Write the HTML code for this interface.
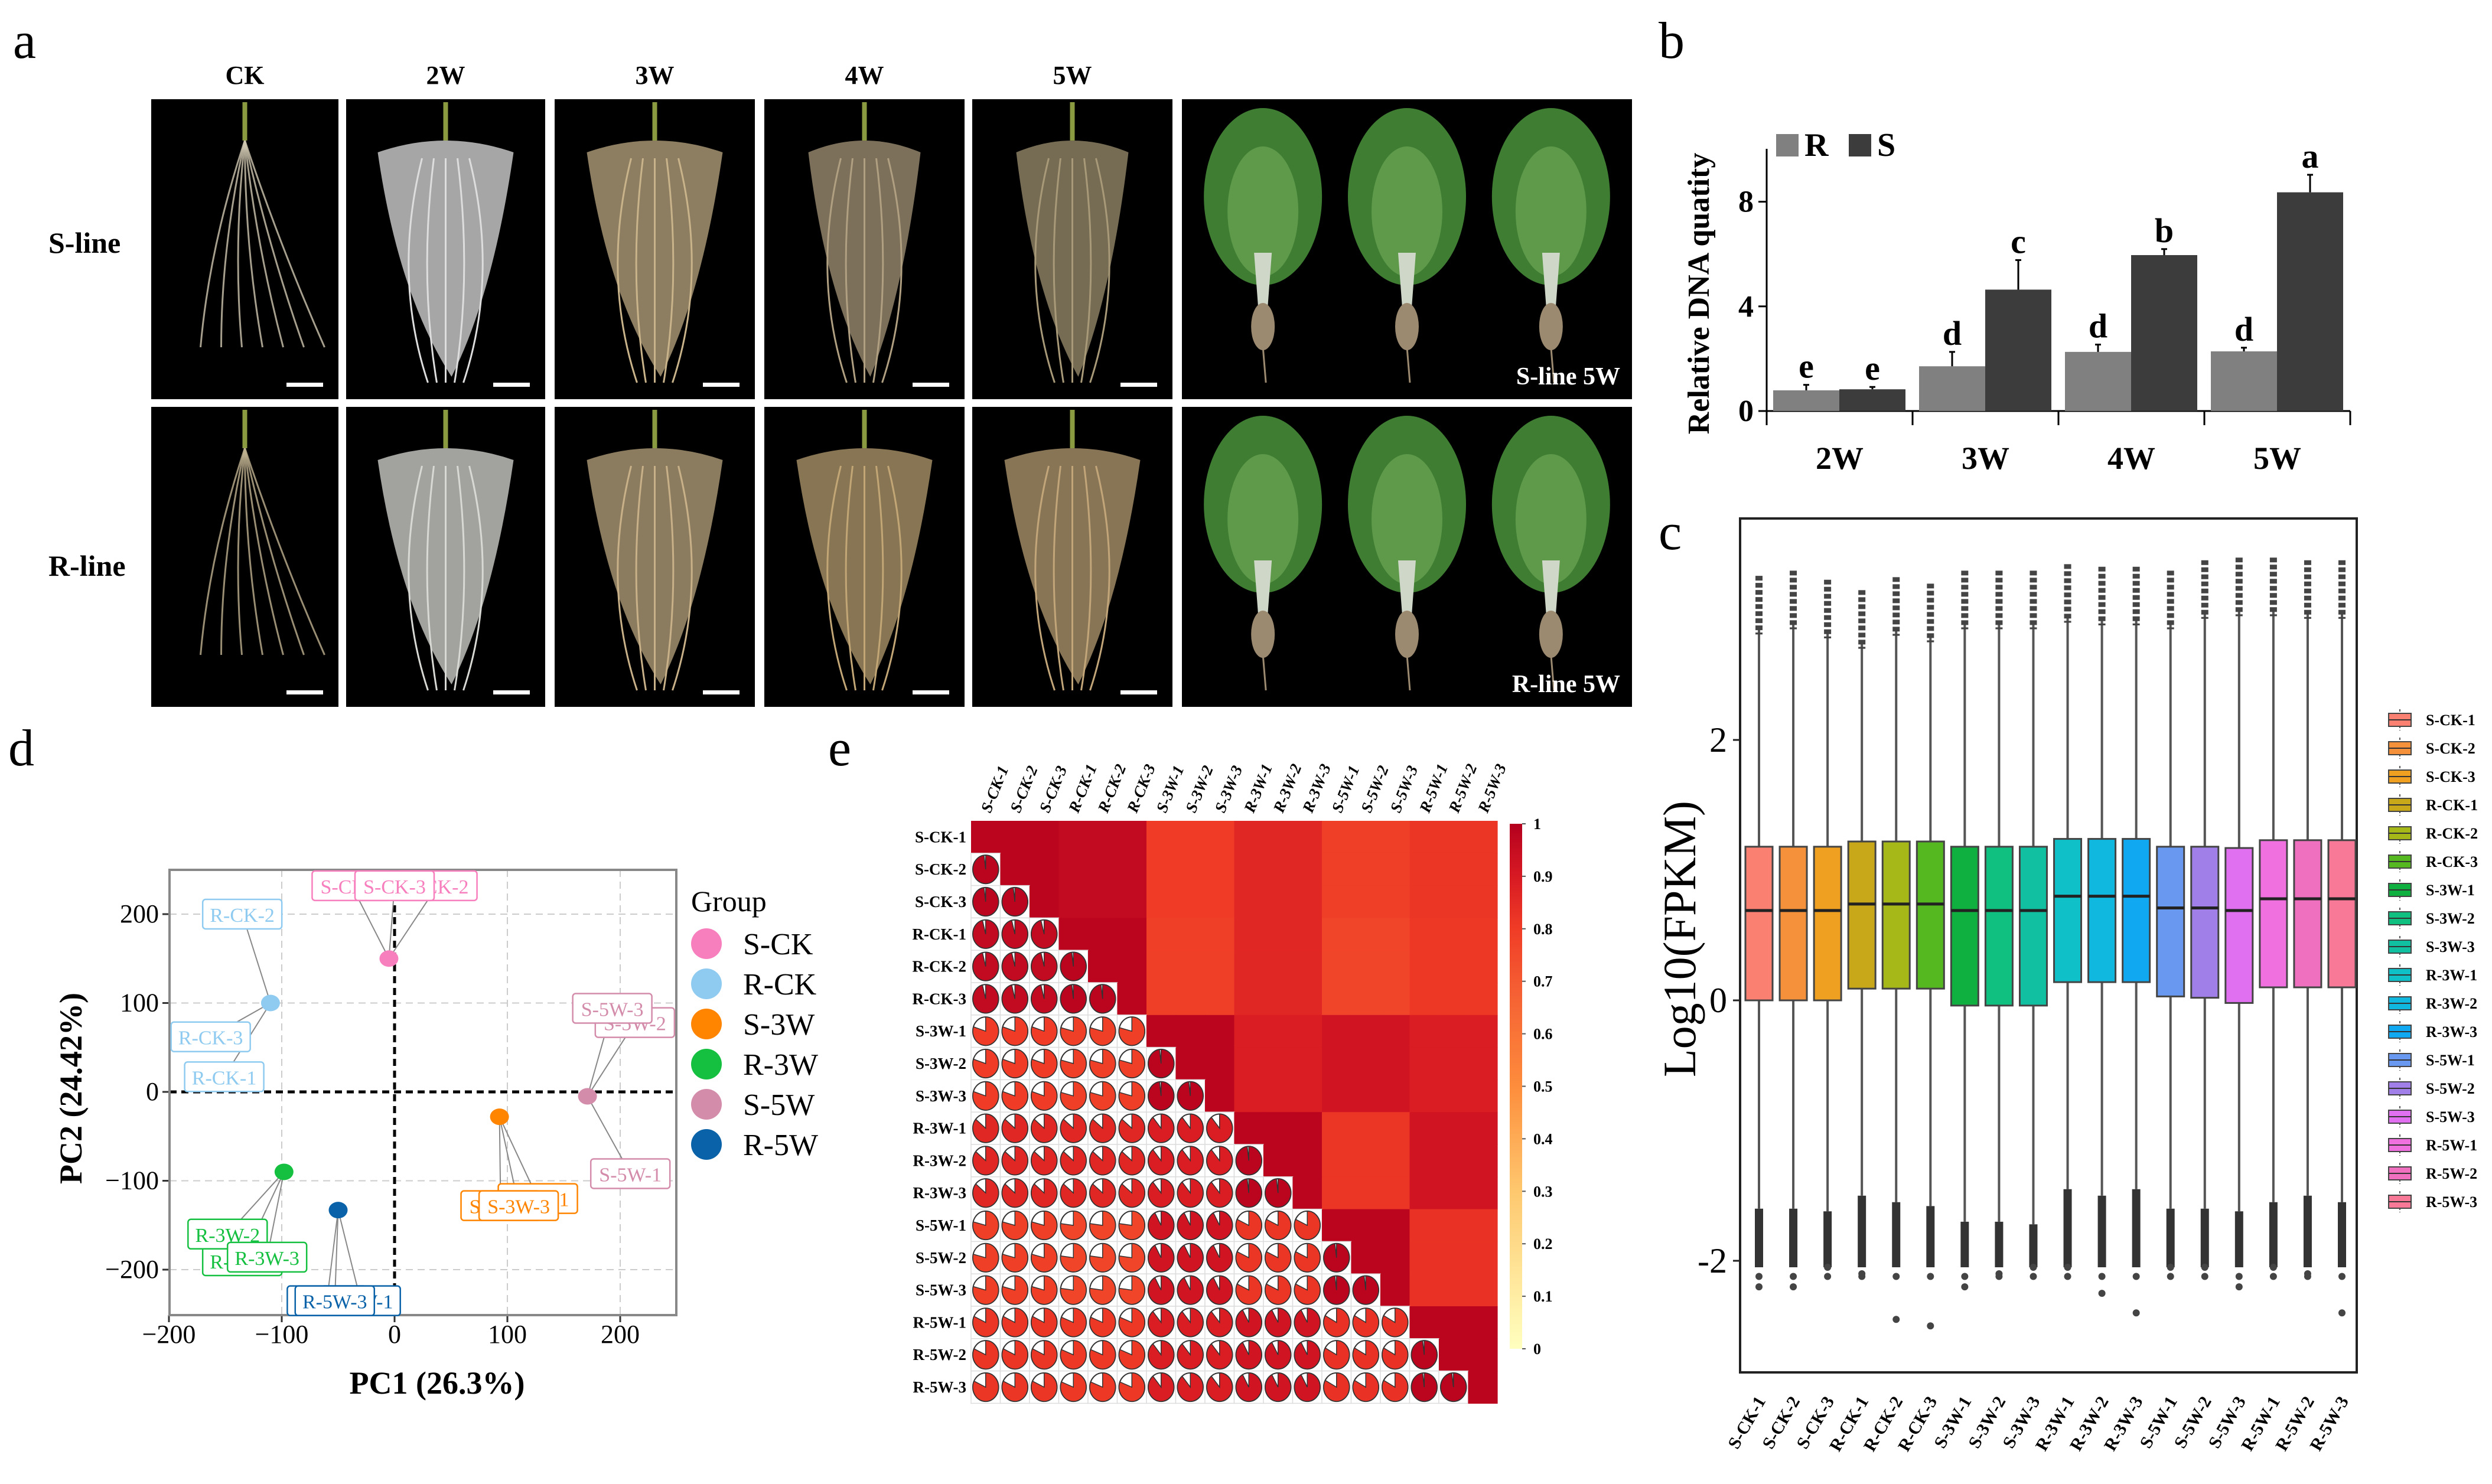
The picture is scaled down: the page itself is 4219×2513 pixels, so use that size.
<!DOCTYPE html>
<html><head><meta charset="utf-8">
<style>
html,body{margin:0;padding:0;background:#fff;}
svg{display:block;font-family:"Liberation Serif",serif;}
</style></head>
<body>
<svg id="fig" width="4219" height="2513" viewBox="0 0 4219 2513" xmlns="http://www.w3.org/2000/svg" font-family="'Liberation Serif', serif">
<rect x="0" y="0" width="4219" height="2513" fill="#fff"/>
<g id="panelA"></g>
<g id="panelB"></g>
<g id="panelC"></g>
<g id="panelD"></g>
<g id="panelE"></g>
</svg>
<script>
// ---------- data ----------
const barGroups = ["2W","3W","4W","5W"];
const barR = [0.79, 1.71, 2.26, 2.28];
const barS = [0.83, 4.64, 5.96, 8.36];
const errR = [0.21, 0.55, 0.28, 0.14];
const errS = [0.09, 1.13, 0.23, 0.67];
const letR = ["e","d","d","d"];
const letS = ["e","c","b","a"];
const barTicks = [0,4,8];

const samples = ["S-CK-1","S-CK-2","S-CK-3","R-CK-1","R-CK-2","R-CK-3","S-3W-1","S-3W-2","S-3W-3","R-3W-1","R-3W-2","R-3W-3","S-5W-1","S-5W-2","S-5W-3","R-5W-1","R-5W-2","R-5W-3"];
const boxQ1 = [0.0,0.0,0.0,0.09,0.09,0.09,-0.04,-0.04,-0.04,0.14,0.14,0.14,0.03,0.02,-0.02,0.1,0.1,0.1];
const boxMed = [0.69,0.69,0.69,0.74,0.74,0.74,0.69,0.69,0.69,0.80,0.80,0.80,0.71,0.71,0.69,0.78,0.78,0.78];
const boxQ3 = [1.18,1.18,1.18,1.22,1.22,1.22,1.18,1.18,1.18,1.24,1.24,1.24,1.18,1.18,1.17,1.23,1.23,1.23];
const outHi = [3.26,3.3,3.23,3.15,3.25,3.2,3.3,3.3,3.3,3.35,3.33,3.33,3.3,3.38,3.4,3.4,3.38,3.38];
const whiskLo = [-1.6,-1.6,-1.62,-1.5,-1.55,-1.58,-1.7,-1.7,-1.72,-1.45,-1.5,-1.45,-1.6,-1.6,-1.62,-1.55,-1.5,-1.55];
const outLo = [-2.2,-2.2,-2.05,-2.1,-2.45,-2.5,-2.2,-2.1,-2.05,-2.05,-2.25,-2.4,-2.05,-2.05,-2.2,-2.05,-2.1,-2.4];
const boxColors = ["#fa8072","#f4913a","#f0a020","#c8a818","#a6b818","#55b820","#10b040","#10c080","#10c0a0","#10c0c8","#10b8e0","#10a8f0","#6898f0","#a080e8","#e070f0","#f070e0","#f070c0","#f87898"];
const boxTicks = [-2,0,2];

const pcaGroups = ["S-CK","R-CK","S-3W","R-3W","S-5W","R-5W"];
const pcaX = [-5,-110,93,-98,171,-50];
const pcaY = [150,100,-28,-90,-5,-133];
const pcaColors = ["#f77fbe","#8fcbf0","#ff8400","#15c040","#d48cab","#0a62a8"];
const pcaTicksX = [-200,-100,0,100,200];
const pcaTicksY = [-200,-100,0,100,200];

const corrGroups = ["S-CK","R-CK","S-3W","R-3W","S-5W","R-5W"];
const corrRow0 = [0.98,0.96,0.80,0.86,0.79,0.82];
const corrRow1 = [0.96,0.98,0.79,0.86,0.77,0.81];
const corrRow2 = [0.80,0.79,0.98,0.89,0.92,0.89];
const corrRow3 = [0.86,0.86,0.89,0.98,0.82,0.92];
const corrRow4 = [0.79,0.77,0.92,0.82,0.98,0.83];
const corrRow5 = [0.82,0.81,0.89,0.92,0.83,0.98];
const cbTicks = [0,0.1,0.2,0.3,0.4,0.5,0.6,0.7,0.8,0.9,1];

// ---------- helpers ----------
const NS="http://www.w3.org/2000/svg";
function mk(parent,tag,attrs,text){const e=document.createElementNS(NS,tag);for(const k in attrs)e.setAttribute(k,attrs[k]);if(text!==undefined)e.textContent=text;parent.appendChild(e);return e;}

// ---------- panel A ----------
const A=document.getElementById('panelA');
let t=mk(A,'text',{x:22,y:98,'font-size':88},'a');


const colX=[256,586,939,1294,1646,2001];
const colW=[317,337,339,339,339,762];
const rowY=[168,689];
const rowH=508;
const heads=["CK","2W","3W","4W","5W"];
heads.forEach((h,i)=>{const e=mk(A,'text',{x:colX[i]+colW[i]/2,y:142,'font-size':44,'font-weight':'bold','text-anchor':'middle'},h);

});
t=mk(A,'text',{x:82,y:428,'font-size':50,'font-weight':'bold'},'S-line');


t=mk(A,'text',{x:82,y:975,'font-size':50,'font-weight':'bold'},'R-line');


const rootCol=[["#cfc7b0","#ddd","#c9b38a","#b0a081","#a89a78"],["#bfb190","#d8d8d4","#c8b088","#c2a676","#c2a67a"]];
for(let r=0;r<2;r++){for(let c=0;c<6;c++){
 const x=colX[c],y=rowY[r],w=colW[c];
 const g=mk(A,'g',{});
 
 
 mk(g,'rect',{x:x,y:y,width:w,height:rowH,fill:'#000'});
 const cx=x+w/2;
 if(c<5){
  const col=rootCol[r][c];
  mk(g,'line',{x1:cx,y1:y+5,x2:cx,y2:y+70,stroke:'#8a9a40','stroke-width':8});
  if(c===0){
   for(let k=-3;k<=3;k++) mk(g,'path',{d:`M${cx} ${y+70} Q${cx+k*20} ${y+250} ${cx+k*35+30} ${y+420}`,stroke:col,'stroke-width':3,fill:'none',opacity:0.8});
  } else {
   const bw=(r===0&&c>=3)?95:115;
   mk(g,'path',{d:`M${cx-bw} ${y+90} Q${cx} ${y+50} ${cx+bw} ${y+90} Q${cx+bw*0.7} ${y+330} ${cx+10} ${y+470} Q${cx-bw*0.7} ${y+330} ${cx-bw} ${y+90}Z`,fill:col,opacity:c===1?0.75:0.7});
   for(let k=-2;k<=2;k++) mk(g,'path',{d:`M${cx+k*20} ${y+100} Q${cx+k*45} ${y+300} ${cx+k*15} ${y+480}`,stroke:col,'stroke-width':3,fill:'none'});
  }
  mk(g,'rect',{x:x+w-88,y:y+rowH-28,width:62,height:7,fill:'#fff'});
 } else {
  [0.18,0.5,0.82].forEach(f=>{const px=x+w*f;
   mk(g,'ellipse',{cx:px,cy:y+165,rx:100,ry:150,fill:'#3f7d33'});
   mk(g,'ellipse',{cx:px,cy:y+190,rx:60,ry:110,fill:'#5e9a4a'});
   mk(g,'path',{d:`M${px-15} ${y+260} L${px+15} ${y+260} L${px+6} ${y+380} L${px-6} ${y+380}Z`,fill:'#cfd8c8'});
   mk(g,'ellipse',{cx:px,cy:y+385,rx:20,ry:40,fill:'#9c8a70'});
   mk(g,'line',{x1:px,y1:y+420,x2:px+5,y2:y+480,stroke:'#9c8a70','stroke-width':3});
  });
  const lt=mk(g,'text',{x:x+w-20,y:y+rowH-25,'font-size':42,'font-weight':'bold',fill:'#fff','text-anchor':'end'},r?'R-line 5W':'S-line 5W');
  
  
 }
}}

// ---------- panel B ----------
const B=document.getElementById('panelB');
t=mk(B,'text',{x:2808,y:98,'font-size':88},'b');


const bx0=2991,bx1=3979,by0=696,bunit=44.3;
const bY=v=>by0-v*bunit;
const gW=(bx1-bx0)/barGroups.length;
mk(B,'line',{x1:bx0,y1:252,x2:bx0,y2:by0,stroke:'#000','stroke-width':3});
mk(B,'line',{x1:bx0-14,y1:by0,x2:bx1,y2:by0,stroke:'#000','stroke-width':3});
for(let i=0;i<=barGroups.length;i++) mk(B,'line',{x1:bx0+i*gW,y1:by0,x2:bx0+i*gW,y2:by0+24,stroke:'#000','stroke-width':3});
barTicks.forEach(v=>{mk(B,'line',{x1:bx0-14,y1:bY(v),x2:bx0,y2:bY(v),stroke:'#000','stroke-width':3});
 const e=mk(B,'text',{x:bx0-22,y:bY(v)+17,'font-size':52,'font-weight':'bold','text-anchor':'end'},v);
 
 });
barGroups.forEach((gname,i)=>{
 const x=bx0+i*gW+11,bw=112;
 [[barR,errR,letR,'#808080',x],[barS,errS,letS,'#3c3c3c',x+bw]].forEach(([vals,errs,lets,col,xx],j)=>{
  const v=vals[i];
  const r=mk(B,'rect',{x:xx,y:bY(v),width:bw,height:v*bunit,fill:col});
  
  
  const top=bY(v+errs[i]);
  mk(B,'line',{x1:xx+bw/2,y1:bY(v),x2:xx+bw/2,y2:top,stroke:'#000','stroke-width':3});
  mk(B,'line',{x1:xx+bw/2-5,y1:top,x2:xx+bw/2+5,y2:top,stroke:'#000','stroke-width':3});
  const lt=mk(B,'text',{x:xx+bw/2,y:top-12,'font-size':58,'font-weight':'bold','text-anchor':'middle'},lets[i]);
  
  
 });
 const xl=mk(B,'text',{x:bx0+(i+0.5)*gW,y:794,'font-size':54,'font-weight':'bold','text-anchor':'middle'},gname);
 
 
});
let lg=mk(B,'g',{});


mk(lg,'rect',{x:3007,y:227,width:38,height:38,fill:'#808080'});
mk(lg,'text',{x:3055,y:264,'font-size':56,'font-weight':'bold'},'R');
mk(lg,'rect',{x:3130,y:227,width:38,height:38,fill:'#3c3c3c'});
mk(lg,'text',{x:3178,y:264,'font-size':56,'font-weight':'bold'},'S');
t=mk(B,'text',{x:0,y:0,'font-size':52,'font-weight':'bold','text-anchor':'middle',transform:'translate(2893,497) rotate(-90)'},'Relative DNA quatity');



// ---------- panel C ----------
const C=document.getElementById('panelC');
t=mk(C,'text',{x:2808,y:930,'font-size':88},'c');


const cxL=2946,cxR=3990,cyT=878,cyB=2324,cy0=1694,cunit=220.5;
const cY=v=>cy0-v*cunit;
const step=(3965-2978)/17;
const cX=i=>2978+i*step;
mk(C,'rect',{x:cxL,y:cyT,width:cxR-cxL,height:cyB-cyT,fill:'none',stroke:'#222','stroke-width':4});
boxTicks.forEach(v=>{mk(C,'line',{x1:cxL-12,y1:cY(v),x2:cxL,y2:cY(v),stroke:'#222','stroke-width':3});
 const e=mk(C,'text',{x:cxL-22,y:cY(v)+20,'font-size':60,'text-anchor':'end'},v);
 
 });
t=mk(C,'text',{x:0,y:0,'font-size':78,'text-anchor':'middle',transform:'translate(2870,1590) rotate(-90)'},'Log10(FPKM)');


samples.forEach((s,i)=>{
 const x=cX(i),bw=46;
 const g=mk(C,'g',{});
 
 
 mk(g,'line',{x1:x,y1:cY(outHi[i]-0.4),x2:x,y2:cY(whiskLo[i]),stroke:'#555','stroke-width':4});
 mk(g,'line',{x1:x,y1:cY(outHi[i]),x2:x,y2:cY(outHi[i]-0.45),stroke:'#444','stroke-width':12,'stroke-dasharray':'8 4'});
 mk(g,'line',{x1:x,y1:cY(whiskLo[i]),x2:x,y2:cY(-2.05),stroke:'#333','stroke-width':14});
 mk(g,'circle',{cx:x,cy:cY(outLo[i]),r:6,fill:'#444'});
 mk(g,'circle',{cx:x,cy:cY(-2.12),r:6,fill:'#444'});
 mk(g,'rect',{x:x-bw/2,y:cY(boxQ3[i]),width:bw,height:cY(boxQ1[i])-cY(boxQ3[i]),fill:boxColors[i],stroke:'#444','stroke-width':3});
 mk(g,'line',{x1:x-bw/2,y1:cY(boxMed[i]),x2:x+bw/2,y2:cY(boxMed[i]),stroke:'#222','stroke-width':5});
 const xl=mk(C,'text',{x:0,y:0,'font-size':30,'font-weight':'bold','text-anchor':'end',transform:`translate(${x+12},2372) rotate(-60)`},s);
 
 
 const lgi=mk(C,'g',{});
 
 
 const ly=1219+i*48;
 mk(lgi,'line',{x1:4063,y1:ly-18,x2:4063,y2:ly+18,stroke:'#555','stroke-width':2,'stroke-dasharray':'4 3'});
 mk(lgi,'rect',{x:4044,y:ly-11,width:38,height:22,fill:boxColors[i],stroke:'#444','stroke-width':2});
 mk(lgi,'line',{x1:4044,y1:ly,x2:4082,y2:ly,stroke:'#333','stroke-width':2});
 mk(lgi,'text',{x:4107,y:ly+9,'font-size':26,'font-weight':'bold'},s);
});

// ---------- panel D ----------
const D=document.getElementById('panelD');
t=mk(D,'text',{x:14,y:1296,'font-size':88},'d');


const dL=287,dR=1145,dT=1473,dB=2227;
const pX=v=>668+v*1.91, pY=v=>1849-v*1.505;
mk(D,'rect',{x:dL,y:dT,width:dR-dL,height:dB-dT,fill:'#fff'});
pcaTicksX.forEach(v=>{mk(D,'line',{x1:pX(v),y1:dT,x2:pX(v),y2:dB,stroke:'#ccc','stroke-width':2,'stroke-dasharray':'12 8'});
 mk(D,'line',{x1:pX(v),y1:dB,x2:pX(v),y2:dB+12,stroke:'#333','stroke-width':3});
 const e=mk(D,'text',{x:pX(v),y:2274,'font-size':44,'text-anchor':'middle'},v<0?'\u2212'+(-v):v);
 
 });
pcaTicksY.forEach(v=>{mk(D,'line',{x1:dL,y1:pY(v),x2:dR,y2:pY(v),stroke:'#ccc','stroke-width':2,'stroke-dasharray':'12 8'});
 mk(D,'line',{x1:dL-12,y1:pY(v),x2:dL,y2:pY(v),stroke:'#333','stroke-width':3});
 const e=mk(D,'text',{x:dL-18,y:pY(v)+14,'font-size':44,'text-anchor':'end'},v<0?'\u2212'+(-v):v);
 
 });
mk(D,'line',{x1:pX(0),y1:dT,x2:pX(0),y2:dB,stroke:'#000','stroke-width':5,'stroke-dasharray':'12 8'});
mk(D,'line',{x1:dL,y1:pY(0),x2:dR,y2:pY(0),stroke:'#000','stroke-width':5,'stroke-dasharray':'12 8'});
mk(D,'rect',{x:dL,y:dT,width:dR-dL,height:dB-dT,fill:'none',stroke:'#888','stroke-width':4});
// labels: [group, label-x (data), label-y (data), names]
const lbls=[
 [0,-38,232,'S-CK-1'],[0,38,232,'S-CK-2'],[0,0,232,'S-CK-3'],
 [1,-135,200,'R-CK-2'],[1,-163,62,'R-CK-3'],[1,-151,17,'R-CK-1'],
 [4,213,78,'S-5W-2'],[4,193,94,'S-5W-3'],[4,209,-92,'S-5W-1'],
 [2,127,-120,'S-3W-1'],[2,94,-128,'S-3W-2'],[2,110,-128,'S-3W-3'],
 [3,-135,-190,'R-3W-1'],[3,-148,-160,'R-3W-2'],[3,-113,-186,'R-3W-3'],
 [5,-60,-235,'R-5W-2'],[5,-30,-235,'R-5W-1'],[5,-53,-235,'R-5W-3']];
lbls.forEach(([gi,lx,ly])=>{
 mk(D,'line',{x1:pX(lx),y1:pY(ly),x2:pX(pcaX[gi]),y2:pY(pcaY[gi]),stroke:'#888','stroke-width':2});
});
lbls.forEach(([gi,lx,ly,nm])=>{
 const x=pX(lx), y=pY(ly);
 const g=mk(D,'g',{});
 
 
 mk(g,'rect',{x:x-67,y:y-25,width:134,height:50,rx:5,fill:'#fff',stroke:pcaColors[gi],'stroke-width':2.5});
 mk(g,'text',{x:x,y:y+13,'font-size':34,'text-anchor':'middle',fill:pcaColors[gi]},nm);
});
pcaGroups.forEach((gname,i)=>{
 const p=mk(D,'ellipse',{cx:pX(pcaX[i]),cy:pY(pcaY[i]),rx:16,ry:14,fill:pcaColors[i]});
 
 
 const lgi=mk(D,'g',{});
 
 
 const ly=1598+i*68;
 mk(lgi,'circle',{cx:1196,cy:ly,r:26,fill:pcaColors[i]});
 mk(lgi,'text',{x:1258,y:ly+18,'font-size':52},gname);
});
t=mk(D,'text',{x:1170,y:1543,'font-size':50},'Group');


t=mk(D,'text',{x:740,y:2360,'font-size':54,'font-weight':'bold','text-anchor':'middle'},'PC1 (26.3%)');


t=mk(D,'text',{x:0,y:0,'font-size':54,'font-weight':'bold','text-anchor':'middle',transform:'translate(138,1843) rotate(-90)'},'PC2 (24.42%)');



// ---------- panel E ----------
const E=document.getElementById('panelE');
t=mk(E,'text',{x:1402,y:1296,'font-size':88},'e');


const corr=[corrRow0,corrRow1,corrRow2,corrRow3,corrRow4,corrRow5];
const mL=1644,mT=1390,cw=49.5,ch=54.8,n=samples.length;
const stops=[[0,[255,255,191]],[0.3,[254,200,110]],[0.5,[253,141,60]],[0.7,[244,90,50]],[0.8,[240,60,38]],[0.9,[215,25,35]],[1,[180,0,30]]];
function cmap(v){for(let k=1;k<stops.length;k++){if(v<=stops[k][0]){const a=stops[k-1],b=stops[k],f=(v-a[0])/(b[0]-a[0]);return 'rgb('+a[1].map((c,j)=>Math.round(c+(b[1][j]-c)*f)).join(',')+')';}}return 'rgb(180,0,30)';}
function val(i,j){const gi=Math.floor(i/3),gj=Math.floor(j/3);return corr[gi][gj];}
for(let i=0;i<n;i++){for(let j=0;j<n;j++){
 const x=mL+j*cw,y=mT+i*ch,v=val(i,j);
 if(j>=i){const r=mk(E,'rect',{x:x,y:y,width:cw+0.6,height:ch+0.6,fill:cmap(v)});
  
  }
 else{
  const g=mk(E,'g',{});
  
  
  mk(g,'rect',{x:x,y:y,width:cw,height:ch,fill:'#fff',stroke:'#ddd','stroke-width':1.5});
  const cx=x+cw/2,cy=y+ch/2,rx=cw*0.44,ry=ch*0.44;
  mk(g,'ellipse',{cx:cx,cy:cy,rx:rx,ry:ry,fill:'#fff',stroke:'#333','stroke-width':2});
  const a=v*2*Math.PI,ex=cx+rx*Math.sin(a),ey=cy-ry*Math.cos(a);
  mk(g,'path',{d:`M${cx} ${cy} L${cx} ${cy-ry} A${rx} ${ry} 0 ${v>0.5?1:0} 1 ${ex} ${ey} Z`,fill:cmap(v),stroke:'#333','stroke-width':1.5});
 }
}}
samples.forEach((s,i)=>{
 const r=mk(E,'text',{x:mL-8,y:mT+i*ch+ch/2+9,'font-size':27,'font-weight':'bold','text-anchor':'end'},s);
 
 
 const c=mk(E,'text',{x:0,y:0,'font-size':27,'font-weight':'bold','font-style':'italic',transform:`translate(${mL+i*cw+cw/2+8},${mT-12}) rotate(-68)`},s);
 
 
});
const cbX=2556,cbT=1395,cbB=2284;
const defs=mk(document.getElementById('fig'),'defs',{});
const lgd=mk(defs,'linearGradient',{id:'cbg',x1:0,y1:1,x2:0,y2:0});
for(let k=0;k<=20;k++)mk(lgd,'stop',{offset:k/20,'stop-color':cmap(k/20)});
const cb=mk(E,'rect',{x:cbX,y:cbT,width:21,height:cbB-cbT,fill:'url(#cbg)'});


cbTicks.forEach(v=>{const y=cbB-v*(cbB-cbT);
 mk(E,'line',{x1:cbX+21,y1:y,x2:cbX+27,y2:y,stroke:'#555','stroke-width':2});
 const e=mk(E,'text',{x:cbX+40,y:y+9,'font-size':26,'font-weight':'bold'},v);
 
 });
</script>
</body></html>
